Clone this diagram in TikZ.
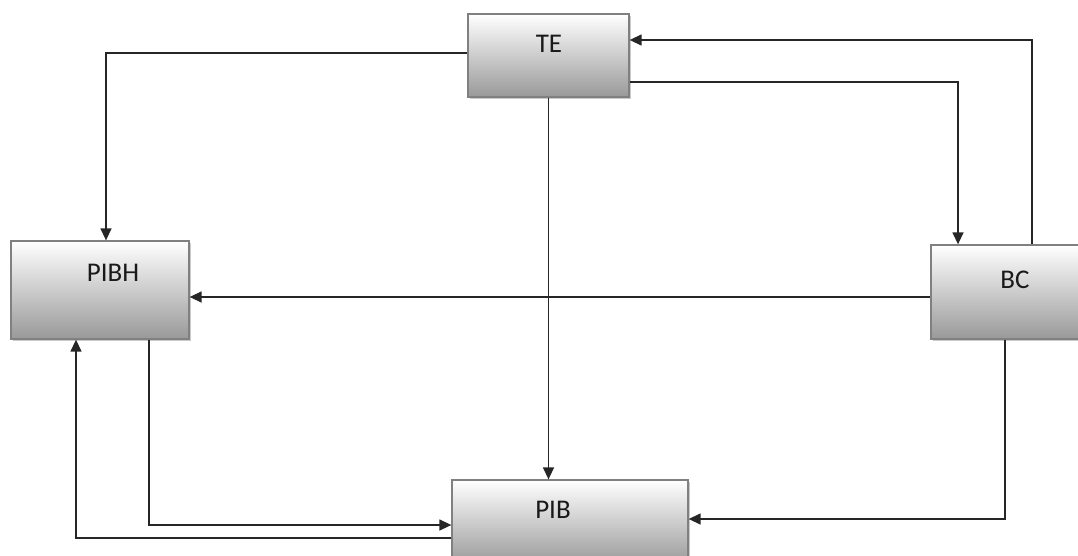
\documentclass[tikz,border=0pt]{standalone}
\usepackage{fontspec}
\setmainfont{Carlito}
\usetikzlibrary{arrows.meta,shadows}
\tikzset{
  blk/.style={draw=black!50, line width=1.3pt, top color=white, bottom color=black!40,
    drop shadow={shadow xshift=2pt, shadow yshift=-2pt, opacity=0.35, fill=black!60},
    minimum width=#1, inner sep=0pt},
  lbl/.style={font=\fontsize{27}{31}\selectfont, text=black!90, inner sep=0pt},
  arr/.style={draw=black!85, line width=1.4pt, -{Triangle[length=12pt,width=11pt]}}
}
\begin{document}
\begin{tikzpicture}[x=1pt,y=-1pt]
\useasboundingbox (0,0) rectangle (1078,555);
% blocks
\node[blk=161pt, minimum height=83pt] (te) at (548.5,55.5) {};
\node[blk=178pt, minimum height=98pt] (pibh) at (100,290) {};
\node[blk=154pt, minimum height=94pt] (bc) at (1008,292) {};
\node[blk=236pt, minimum height=85pt] (pib) at (570,522.5) {};
% labels
\node[lbl] (teT) at (549,44) {TE};
\node[lbl] (pibhT) at (113,273) {PIBH};
\node[lbl] (bcT) at (1015,280) {BC};
\node[lbl] (pibT) at (553,510) {PIB};
% connectors
\coordinate (bcw) at ([yshift=-5pt]bc.west);
\draw[arr] ([yshift=2.5pt]te.west) -| ([xshift=6pt]pibh.north);
\draw[arr] ([xshift=24pt]bc.north) |- ([yshift=15.5pt]te.east);
\draw[arr] ([yshift=-26.5pt]te.east) -| ([xshift=-50pt]bc.north);
\draw[arr] (te.south) -- (te.south |- pib.north);
\draw[arr] (bcw) -- (pibh.east |- bcw);
\draw[arr] ([xshift=49pt]pibh.south) |- ([yshift=-2.5pt]pib.west);
\draw[arr] ([yshift=-15.5pt]pib.west) -| ([xshift=-24pt]pibh.south);
\draw[arr] ([xshift=-3pt]bc.south) |- ([yshift=3.5pt]pib.east);
\end{tikzpicture}
\end{document}
